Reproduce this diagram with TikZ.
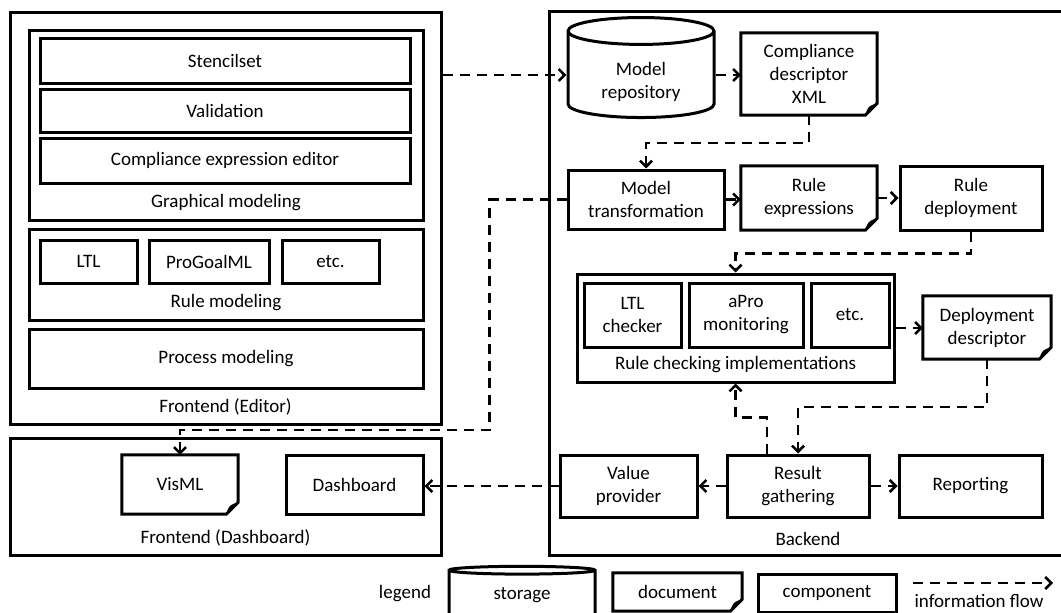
\documentclass[tikz,border=0pt]{standalone}
\usepackage{fontspec}
\setmainfont{Carlito}
\usetikzlibrary{shapes.geometric,arrows.meta}

% document outline with folded corner
\newcommand{\drawdoc}[1]{%
  \draw [line width=3pt] (#1.north west) -- (#1.north east) -- ([yshift=12pt]#1.south east) -- ([xshift=-12pt]#1.south east) -- (#1.south west) -- cycle;
  \fill ([xshift=-12pt]#1.south east) .. controls ([xshift=-9pt,yshift=9pt]#1.south east) .. ([yshift=12pt]#1.south east) -- cycle;}

\begin{document}
\begin{tikzpicture}[x=1pt,y=-1pt,font=\fontsize{19}{23}\selectfont]

\tikzstyle{box} = [rectangle, align=center, draw=black, line width=3pt, inner sep=0pt]

\tikzstyle{frame} = [rectangle, draw=black, line width=3pt, inner sep=0pt]

\tikzstyle{doc} = [rectangle, align=center, inner sep=0pt, append after command={\pgfextra{\drawdoc{\tikzlastnode}}}]

\tikzstyle{store} = [cylinder, shape border rotate=90, aspect=0.34, align=center, draw=black, line width=3pt, inner sep=0pt]

\tikzstyle{flow} = [dash pattern=on 10pt off 7pt, line width=2.5pt, -{Straight Barb[length=6pt,width=12pt]}]

    \useasboundingbox (0,0) rectangle (1061,613);

    % Frontend (Editor)
    \node [frame, minimum width=431pt, minimum height=412pt] (editor) at (225.5,218) {};
    \node (editorLbl) at (225.5,407) {Frontend (Editor)};
    \node [frame, minimum width=394pt, minimum height=190pt] (graph) at (226,125) {};
    \node (graphLbl) at (226,203) {Graphical modeling};
    \node [box, minimum width=370pt, minimum height=45pt] (stencil) at (225,60.5) {Stencilset};
    \node [box, minimum width=370pt, minimum height=43pt] (valid) at (225,111) {Validation};
    \node [box, minimum width=370pt, minimum height=45pt] (cee) at (225,160.5) {Compliance expression editor};
    \node [frame, minimum width=394pt, minimum height=91pt] (rulemod) at (226,274.5) {};
    \node (rulemodLbl) at (226,303) {Rule modeling};
    \node [box, minimum width=97pt, minimum height=43pt] (ltl) at (88.5,261.5) {LTL};
    \node [box, minimum width=120pt, minimum height=43pt] (progoal) at (209,261.5) {ProGoalML};
    \node [box, minimum width=97pt, minimum height=43pt] (etcA) at (330.5,261.5) {etc.};
    \node [box, minimum width=394pt, minimum height=59pt] (procmod) at (226,358.5) {Process modeling};

    % Frontend (Dashboard)
    \node [frame, minimum width=431pt, minimum height=117pt] (dashboard) at (225.5,496.5) {};
    \node (dashboardLbl) at (225.5,538) {Frontend (Dashboard)};
    \node [doc, minimum width=116pt, minimum height=59pt] (visml) at (180,484.5) {VisML};
    \node [box, minimum width=137pt, minimum height=59pt] (dash) at (354.5,484.5) {Dashboard};

    % Backend
    \node [frame, minimum width=518pt, minimum height=544pt] (backend) at (808,283) {};
    \node (backendLbl) at (808,539) {Backend};
    \node [store, minimum width=146pt, minimum height=100pt] (repo) at (641,75) {\raisebox{-7pt}[\height][\depth]{\begin{tabular}{@{}c@{}}Model\\repository\end{tabular}}};
    \node [doc, minimum width=136pt, minimum height=82pt] (cdxml) at (809,74) {Compliance\\descriptor\\XML};
    \node [box, minimum width=156pt, minimum height=59pt] (mt) at (646,199.5) {Model\\transformation};
    \node [doc, minimum width=136pt, minimum height=64pt] (rexp) at (809,198) {Rule\\expressions};
    \node [box, minimum width=142pt, minimum height=64pt] (rdep) at (971,198) {Rule\\deployment};
    \node [frame, minimum width=317pt, minimum height=108pt] (rci) at (735.5,328) {};
    \node (rciLbl) at (735.5,365) {Rule checking implementations};
    \node [box, minimum width=97pt, minimum height=64pt] (ltlc) at (632.5,315) {LTL\\checker};
    \node [box, minimum width=114pt, minimum height=64pt] (apro) at (746,315) {aPro\\monitoring};
    \node [box, minimum width=78pt, minimum height=64pt] (etcB) at (850,315) {etc.};
    \node [doc, minimum width=128pt, minimum height=63pt] (dd) at (987,327.5) {Deployment\\descriptor};
    \node [box, minimum width=137pt, minimum height=62pt] (vp) at (628.5,486) {Value\\provider};
    \node [box, minimum width=142pt, minimum height=62pt] (rg) at (798,486) {Result\\gathering};
    \node [box, minimum width=143pt, minimum height=62pt] (rep) at (970.5,486) {Reporting};

    % legend
    \node (legendLbl) at (405,594) {legend};
    \node [store, aspect=0.137, minimum width=146pt, minimum height=52pt] (lstore) at (522,595) {storage};
    \node [doc, minimum width=129pt, minimum height=38pt] (ldoc) at (677.5,592) {document};
    \node [box, minimum width=138pt, minimum height=38pt] (lcomp) at (827,593) {component};
    \coordinate (lflowA) at (913,583);
    \coordinate (lflowB) at (1053,583);
    \node (lflowLbl) at (979,601) {information flow};

    \draw [flow] (editor.east |- repo.west) -- (repo.west);
    \draw [flow] (repo.east) -- (repo.east -| cdxml.west);
    \draw [flow] (cdxml.south) -- ++(0,28) -| (mt.north);
    \draw [flow] (mt.west) -- ++(-77,0) |- ([yshift=25pt]visml.north) -- (visml.north);
    \draw [flow] (mt.east) -- (mt.east -| rexp.west);
    \draw [flow] (rexp.east) -- (rexp.east -| rdep.west);
    \draw [flow] (rdep.south) -- ++(0,22) -| (rci.north);
    \draw [flow] (rci.east) -- (rci.east -| dd.west);
    \draw [flow] (dd.south) -- ++(0,48) -| (rg.north);
    \draw [flow] ([xshift=-31pt]rg.north) -- ++(0,-36) -| (rci.south);
    \draw [flow] (rg.west) -- (rg.west -| vp.east);
    \draw [flow] (vp.west) -- (vp.west -| dash.east);
    \draw [flow] (rg.east) -- (rg.east -| rep.west);
    \draw [flow] (lflowA) -- (lflowB);

\end{tikzpicture}
\end{document}
